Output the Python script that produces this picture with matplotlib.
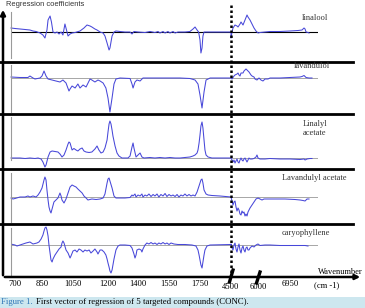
import numpy as np
import matplotlib
matplotlib.use("Agg")
import matplotlib.pyplot as plt
from matplotlib.lines import Line2D
from matplotlib.patches import Rectangle, FancyArrowPatch
from matplotlib import transforms

plt.rcParams['font.family'] = ['Liberation Serif', 'DejaVu Serif']

# broken wavenumber axis: MIR part, then NIR part (positions along the axis)
AXIS_WN = [680, 700, 850, 1050, 1200, 1400, 1550, 1750, 1950, 4500, 6000, 6950, 7800]
AXIS_POS = [0, 4, 31, 62, 97, 127, 158, 189, 220, 220.01, 247, 279, 307]

tick_wn = [700, 850, 1050, 1200, 1400, 1550, 1750, 6950]
low_tick_wn = [4500, 6000]
names = ['linalool', 'lavandulol', 'Linalyl\nacetate', 'Lavandulyl acetate', 'caryophyllene']

# regression coefficients (arbitrary units)
linalool_wn = [680, 700, 728, 756, 783, 800, 817, 839, 856, 869, 882, 889, 902, 911, 921, 934, 947, 960,
               973, 985, 998, 1008, 1018, 1031, 1044, 1059, 1080, 1097, 1110, 1123, 1131, 1144, 1153, 1166,
               1179, 1187, 1196, 1207, 1213, 1220, 1227, 1240, 1253, 1280, 1313, 1347, 1360, 1373, 1400,
               1434, 1458, 1482, 1497, 1506, 1521, 1531, 1545, 1556, 1576, 1589, 1608, 1653, 1685, 1705,
               1718, 1731, 1741, 1750, 1756, 1763, 1769, 1776, 1815, 1879, 1950,
               4500, 4556, 4611, 4722, 4833, 4889, 5000, 5056, 5167, 5278, 5389, 5444, 5556, 5667, 5778,
               5889, 6000, 6059, 6208, 6356, 6653, 6950, 7194, 7315, 7376, 7407, 7437, 7497, 7527]
linalool_coef = [4, 3.5, 3, 2.5, 2, 1, 0.5, -1, -3, -6, 2, 12, 16, 10, 0, -1, 0, -2,
                 0, -3, 8, 2, -4, -2, -1, -0.5, 1, 4, 7, 6, 5, 3, 2, 0,
                 -1, -4, -11, -18, -16, -10, -4, 0, 1, 0.5, 0, 0, -2, 0.5, 0,
                 -0.5, 0.5, -0.5, 0.5, -1, 0.5, -1, 0.5, -1, 0.5, -1, 0, 0, 0.5, 3,
                 5, 2, 0, -8, -21, -16, -4, 0, 0, 0, 0,
                 -6, 0, 4, 7, 6, 5, 8, 10, 7, 12, 17, 15, 12, 8, 4,
                 1, -1, -0.5, 0, 0.5, 0.5, 1, 1.5, 2, 4, 3, 0, -0.5, -1]

lavandulol_wn = [680, 728, 772, 783, 800, 811, 839, 850, 863, 876, 889, 915, 940, 966, 985, 1005, 1024,
                 1031, 1044, 1059, 1071, 1080, 1093, 1106, 1123, 1131, 1144, 1157, 1166, 1179, 1191, 1200,
                 1213, 1227, 1240, 1253, 1280, 1347, 1360, 1367, 1380, 1393, 1410, 1424, 1458, 1506, 1556,
                 1621, 1685, 1718, 1737, 1750, 1763, 1776, 1789, 1815, 1950,
                 4500, 4556, 4667, 4722, 4833, 4889, 4944, 5000, 5056, 5167, 5222, 5333, 5389, 5500, 5611,
                 5667, 5778, 5833, 5944, 6030, 6089, 6148, 6208, 6297, 6356, 6653, 6950, 7254, 7315, 7376,
                 7437, 7527, 7618]
lavandulol_coef = [1, 0.5, 0.5, 2, 0, -1, 0, 2, 7, 2, -1, -2, -3, -4, -2, -5, -13,
                   -11, -8, -10, -6, -10, -7, -9, -1, -2, -4, -2, -3, -5, -10, -20,
                   -34, -20, -6, -1, 0, -0.5, -6, -10, -4, -2, -3, 0, 0, 0, 0,
                   0, -0.5, -2, -6, -17, -30, -14, -2, 0, 0,
                   0, -1, 2, 3, 4, 5, 3, 2, 5, 5, 7, 9, 8, 6, 3,
                   2, 1, -1, -2, 0, -2, -3, -1, -1, 0, 0, 0.5, 1, 1.5, 2.5,
                   0.5, 0, 0]

linalyl_wn = [680, 728, 756, 783, 811, 828, 845, 856, 869, 876, 889, 902, 915, 934, 953, 966, 979, 992,
              1005, 1018, 1024, 1031, 1044, 1054, 1063, 1071, 1080, 1089, 1097, 1106, 1119, 1131, 1144,
              1153, 1161, 1170, 1179, 1187, 1196, 1200, 1207, 1213, 1220, 1227, 1233, 1247, 1260, 1273,
              1293, 1333, 1347, 1360, 1367, 1373, 1387, 1400, 1410, 1419, 1429, 1458, 1482, 1506, 1531,
              1556, 1589, 1621, 1653, 1685, 1705, 1718, 1731, 1737, 1744, 1750, 1756, 1763, 1769, 1776,
              1782, 1789, 1802, 1827, 1950,
              4500, 4556, 4611, 4667, 4722, 4778, 4833, 4889, 4944, 5000, 5056, 5111, 5167, 5222, 5278,
              5333, 5389, 5444, 5500, 5556, 5667, 5778, 5889, 5944, 6000, 6059, 6208, 6356, 6653, 6950,
              7254, 7376, 7407, 7467, 7557, 7618]
linalyl_coef = [0, 0, -0.5, 0, -0.5, 0, -1, -4, -9, -7, 1, 6, 7, 6.5, 6, 4, 1, 3,
                8, 14, 16, 15, 8, 9.5, 8, 7, 9, 10, 7, 6, 5.5, 6, 9,
                12, 8, 5, 6, 10, 18, 26, 34, 37, 34, 28, 22, 12, 5, 2,
                0, 0, 2, 11, 15, 10, 1, 3, 5, 1, 0, 0.5, 0, 0.5, 0,
                0.5, 0, 0, 0.5, 1, 2, 3, 5, 8, 15, 23, 32, 36, 30, 18,
                8, 3, 1, 0, 0,
                0, -2, -4, -2, -5, -3, -1, -4, -5, -2, 0, -2, -3, -1, 0,
                -2, -4, -2, 0, -1, -1, -0.5, 1, 3, 0, -1, -1, -0.5, -1, -1,
                -1.5, -1, -2, -1, -0.5, -0.5]

lavandulyl_wn = [680, 690, 700, 728, 756, 772, 783, 800, 817, 828, 839, 850, 863, 869, 876, 882, 889, 895,
                 902, 908, 915, 927, 940, 953, 966, 973, 979, 992, 1005, 1018, 1031, 1044, 1054, 1063,
                 1071, 1080, 1089, 1097, 1106, 1114, 1131, 1149, 1166, 1179, 1187, 1191, 1196, 1200, 1207,
                 1213, 1227, 1240, 1253, 1280, 1313, 1347, 1360, 1367, 1380, 1387, 1400, 1410, 1419, 1424,
                 1434, 1443, 1453, 1463, 1473, 1482, 1492, 1501, 1511, 1521, 1531, 1540, 1550, 1563, 1576,
                 1589, 1602, 1614, 1627, 1640, 1653, 1666, 1679, 1692, 1705, 1718, 1731, 1744, 1750, 1756,
                 1763, 1769, 1776, 1789, 1802, 1827, 1879, 1950,
                 4500, 4556, 4611, 4667, 4722, 4778, 4833, 4889, 4944, 5000, 5056, 5111, 5167, 5222, 5278,
                 5333, 5389, 5444, 5500, 5556, 5667, 5778, 5889, 6000, 6059, 6119, 6178, 6297, 6504, 6801,
                 7102, 7254, 7346, 7407, 7467, 7527]
lavandulyl_coef = [-1, -2, -1.5, 0, 0, 1, 0, 1, 0, 2, 5, 9, 17, 20, 17, 7, -3, -10,
                   -14, -16, -12, -5, -3, -1, 4, 1, -3, -6, -2, 4, 10, 12, 11, 10,
                   8, 6, 4, 1, -1, -3, -2, -2.5, -2, -1, 3, 8, 14, 18, 19,
                   16, 9, 1, -1, -1, -1, -0.5, 2, 1, 3, 0, 2, 1, 3, 0,
                   2, 1, 3, 0.5, 2.5, 1, 3, 0, 2.5, 1, 3.5, 0.5, 2.5, 1, 2,
                   0.5, 2.5, 0, 2, 1, 3, 1, 2.5, 1, 2, 1, 5, 11, 14, 17,
                   18, 14, 7, 3, 2, 1.5, 1, 0,
                   0, -4, -8, -5, -4, -10, -14, -11, -13, -17, -18, -14, -16, -15, -19,
                   -17, -19, -15, -13, -11, -8, -5, -2, -1, -2, -3, -2, -2, -2, -2,
                   -2.5, -3, -3.5, -4, -2, -2]

caryo_wn = [685, 700, 711, 728, 744, 761, 783, 800, 811, 822, 833, 845, 856, 863, 869, 876, 882, 889,
            895, 902, 908, 915, 921, 934, 947, 960, 973, 979, 985, 992, 1005, 1018, 1031, 1037, 1050,
            1059, 1067, 1076, 1084, 1093, 1101, 1110, 1119, 1127, 1136, 1144, 1153, 1157, 1166, 1174,
            1183, 1191, 1196, 1200, 1207, 1213, 1220, 1227, 1233, 1240, 1247, 1253, 1267, 1280, 1313,
            1347, 1360, 1373, 1380, 1387, 1393, 1405, 1415, 1419, 1424, 1434, 1443, 1453, 1463, 1473,
            1482, 1492, 1501, 1511, 1521, 1531, 1540, 1550, 1563, 1582, 1608, 1653, 1698, 1724, 1737,
            1744, 1750, 1756, 1763, 1769, 1776, 1782, 1795, 1815, 1950,
            4500, 4556, 4611, 4667, 4722, 4778, 4833, 4889, 4944, 5000, 5056, 5111, 5167, 5222, 5278,
            5333, 5389, 5444, 5500, 5556, 5667, 5778, 5889, 6000, 6059, 6208, 6356, 6653, 6950, 7254,
            7407, 7497]
caryo_coef = [0.7, 0, -1, 0, 1, 2, 3, 1, 1.5, 2, 3, 6, 10, 14, 17, 18, 15, 9,
              0, -8, -15, -17, -14, -10, -7, -4, -2, 2, 4, 2, -5, -8, -13, -11, -6,
              -5, -7, -4, -5, -7, -5, -6, -5, -8, -6, -4, -7, -9, -5, -5,
              -7, -10, -14, -18, -22, -26, -28, -25, -20, -14, -9, -5, -1, 0, 0,
              -0.5, -3, -9, -13, -10, -5, -4, -5, -7, -4, 0, 2, 1, 2.5, 1,
              2, 0.5, 2, 1, 2.5, 1, 2, 0.5, 2, 1, 0.5, 0.5, 0, -1, -5,
              -10, -15, -20, -23, -17, -10, -5, -1, 0, 0.5,
              1, -3, -5, 0, 2, -4, -7, -2, 1, -5, -8, -3, -1, -5, -7,
              -3, -2, -5, -5, -3, -1, -2, 0, 1, -0.5, 0, 0, -0.5, -0.5, -0.5,
              -0.5, -1]

series = [(linalool_wn, linalool_coef), (lavandulol_wn, lavandulol_coef),
          (linalyl_wn, linalyl_coef), (lavandulyl_wn, lavandulyl_coef),
          (caryo_wn, caryo_coef)]

W, H = 365, 308


def fx(x):
    return x / W


def fy(y):
    return 1 - y / H


def fwd(wn):
    return np.interp(wn, AXIS_WN, AXIS_POS)


def inv(pos):
    return np.interp(pos, AXIS_POS, AXIS_WN)


fig = plt.figure(figsize=(W / 100, H / 100), dpi=100)

# panel layout: top, bottom and baseline (pixels from top)
panels = [(12, 58, 32), (65, 112, 78), (117, 160, 158), (173, 222, 197), (228, 275, 245)]
BLUE = '#4747d9'

axes = []
for i, ((top, bot, base), (wn, coef)) in enumerate(zip(panels, series)):
    ax = fig.add_axes([fx(11), fy(bot), fx(318) - fx(11), fy(top) - fy(bot)])
    ax.set_xscale('function', functions=(fwd, inv))
    ax.set_xlim(680, 7800)
    ax.set_ylim(base - bot, base - top)
    ax.patch.set_alpha(0)
    ax.axhline(0, color='black' if i == 0 else '#a6a6a6', lw=0.8 if i == 0 else 0.7, zorder=1)
    ax.plot(wn, coef, color=BLUE, lw=0.75, clip_on=False, zorder=2)
    for s in ['top', 'right', 'bottom']:
        ax.spines[s].set_visible(False)
    ax.spines['left'].set_color('#9a9a9a')
    ax.spines['left'].set_linewidth(0.8)
    ax.set_yticks([])
    ax.minorticks_off()
    ax.tick_params(bottom=False, labelbottom=False, left=False)
    axes.append(ax)

ax5 = axes[-1]
ax5.set_xticks(tick_wn)
ax5.set_xticklabels([str(t) for t in tick_wn])
ax5.tick_params(labelbottom=True, length=0, pad=3.3, labelsize=6.2)
ax5.minorticks_off()
trans = transforms.blended_transform_factory(ax5.transData, fig.transFigure)
for t in low_tick_wn:
    ax5.text(t, fy(287), str(t), transform=trans, ha='center', va='center', fontsize=6.2)

# dotted marker between MIR and NIR regions
fig.add_artist(Line2D([4500, 4500], [fy(5), fy(277)], transform=trans, color='black',
                      lw=1.8, ls=(0, (1, 1))))

# separators between panels
for y in [62, 114, 169, 224]:
    fig.add_artist(Line2D([fx(0), fx(353)], [fy(y), fy(y)], color='black', lw=2))

# axes arrows
fig.add_artist(FancyArrowPatch((fx(3), fy(278)), (fx(3), fy(7)), transform=fig.transFigure,
                               arrowstyle='-|>', mutation_scale=7, lw=1.8, color='black'))
fig.add_artist(FancyArrowPatch((fx(2), fy(277)), (fx(363), fy(277)), transform=fig.transFigure,
                               arrowstyle='-|>', mutation_scale=7, lw=1.8, color='black'))

# axis break marks
for x0, y0, x1, y1 in [(229.5, 282, 233, 270), (256.5, 283, 260, 272)]:
    fig.add_artist(Line2D([fx(x0), fx(x1)], [fy(y0), fy(y1)], color='black', lw=2.4))

# compound labels
label_pos = [(315, 18, 'center'), (312, 66, 'center'), (303, 128.5, 'left'),
             (314, 178, 'center'), (306, 233, 'center')]
for name, (x, y, ha) in zip(names, label_pos):
    fig.text(fx(x), fy(y), name, ha=ha, va='center', fontsize=6.0, color='#333333',
             linespacing=1.25)

fig.text(fx(6), fy(6.0), 'Regression coefficients', ha='left', va='baseline', fontsize=5.4,
         family=['Liberation Sans Narrow', 'Liberation Sans', 'DejaVu Sans'], color='#333333')
fig.text(fx(363), fy(272), 'Wavenumber', ha='right', va='center', fontsize=6.0)
fig.text(fx(327), fy(285), '(cm -1)', ha='center', va='center', fontsize=6.2)

# caption
fig.add_artist(Rectangle((0, 0), 1, fy(297), transform=fig.transFigure,
                         facecolor='#cde7ef', edgecolor='none', zorder=0))
fig.text(fx(1), fy(302.5), 'Figure 1.', ha='left', va='center', fontsize=6.3, color='#2e75b6')
fig.text(fx(36), fy(302.5), 'First vector of regression of 5 targeted compounds (CONC).',
         ha='left', va='center', fontsize=6.3, color='black')

fig.savefig('out.png', dpi=100)
